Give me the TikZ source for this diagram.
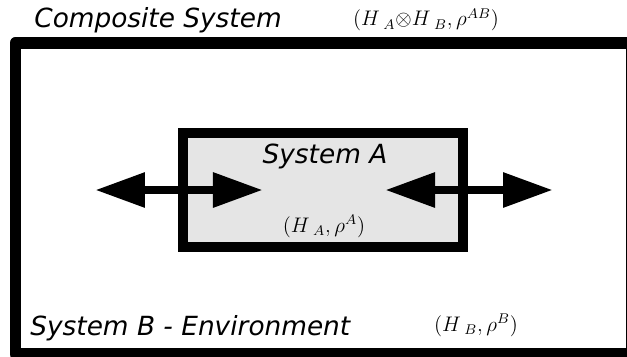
\documentclass[tikz,border=0pt]{standalone}
\usepackage{fontspec}
\setsansfont{DejaVu Sans}
\usetikzlibrary{arrows.meta,calc}

\begin{document}
\begin{tikzpicture}[
  every node/.style={inner sep=0pt},
  title/.style={font=\fontsize{15}{18}\selectfont\sffamily\itshape},
  hilb/.style={font=\fontsize{12}{14}\selectfont},
  sysbox/.style={draw,line width=5.7pt,fill=black!10,minimum width=5.6cm,minimum height=2.28cm},
  flow/.style={line width=5.1pt,{Triangle[length=1cm,width=0.66cm]}-{Triangle[length=1cm,width=0.66cm]}}
]
\useasboundingbox (0,0) rectangle (12.54,7.12);
\clip (0,0) rectangle (12.54,7.12);
% environment box, runs off the right and bottom edge
\draw[line width=6.8pt,line join=round] (0.31,0.04) rectangle (12.64,6.26);
\node[sysbox] (sysA) at (6.46,3.32) {};
% exchange with the environment
\coordinate (outL) at ($(sysA.west)+(-1.66,0)$);
\coordinate (inL) at ($(sysA.west)+(1.7,0)$);
\coordinate (inR) at ($(sysA.east)+(-1.66,0)$);
\coordinate (outR) at ($(sysA.east)+(1.7,0)$);
\draw[flow] (outL) -- (inL);
\draw[flow] (inR) -- (outR);
% labels
\node[title,anchor=base west] (comp) at (0.68,6.58) {Composite System};
\node[hilb] (compH) at (8.52,6.72) {$(H\,_{A}{\otimes}H\,_{B},\rho^{AB})$};
\node[title,anchor=base] (nameA) at (6.5,3.86) {System A};
\node[hilb] (hilbA) at (6.48,2.6) {$(H\,_{A},\rho^{A})$};
\node[title,anchor=base west] (nameB) at (0.6,0.42) {System B - Environment};
\node[hilb] (hilbB) at (9.52,0.62) {$(H\,_{B},\rho^{B})$};
\end{tikzpicture}
\end{document}
